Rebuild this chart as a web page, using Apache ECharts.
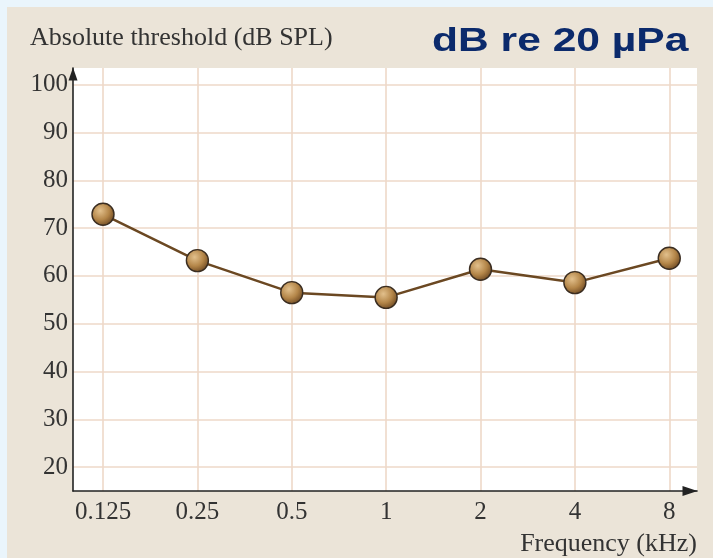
<!DOCTYPE html>
<html>
<head>
<meta charset="utf-8">
<script src="https://cdn.jsdelivr.net/npm/echarts@6/dist/echarts.min.js"></script>
<style>
  html, body { margin: 0; padding: 0; }
  #chart { width: 713px; height: 558px; }
</style>
</head>
<body>
<div id="chart"></div>
<script>
// Frequency categories (kHz)
const categories = ['0.125', '0.25', '0.5', '1', '2', '4', '8'];
// Absolute threshold values (dB SPL)
const thresholds = [72.9, 63.2, 56.5, 55.5, 61.4, 58.6, 63.7];
// Y tick labels
const yTicks = [20, 30, 40, 50, 60, 70, 80, 90, 100];

const xIdx = categories.map((c, i) => i);
const seriesData = thresholds.map((v, i) => [i, v]);

const serif = '"Liberation Serif", "Times New Roman", serif';
const textColor = '#333333';
const gridColor = '#eed9c8';

const chart = echarts.init(document.getElementById('chart'), null, { renderer: 'canvas' });

chart.setOption({
  backgroundColor: '#ebe4d8',
  animation: false,
  graphic: [
    { type: 'rect', shape: { x: 0, y: 0, width: 713, height: 7 }, style: { fill: '#eaf5fc' }, silent: true },
    { type: 'rect', shape: { x: 0, y: 0, width: 7, height: 558 }, style: { fill: '#eaf5fc' }, silent: true },
    {
      type: 'text', x: 432, y: 42, scaleX: 1.29, silent: true,
      style: {
        text: 'dB re 20 µPa',
        font: 'bold 33px "Liberation Sans", Arial, sans-serif',
        fill: '#0b2a6c',
        align: 'left', verticalAlign: 'middle',
        textAlign: 'left', textVerticalAlign: 'middle'
      }
    }
  ],
  grid: {
    left: 73, top: 68, right: 16, bottom: 67,
    show: true, backgroundColor: '#ffffff', borderWidth: 0
  },
  xAxis: {
    type: 'value',
    min: -0.318,
    max: 6.294,
    name: 'Frequency (kHz)',
    nameLocation: 'end',
    nameGap: 0,
    nameTextStyle: {
      fontFamily: serif, fontSize: 26, color: textColor,
      align: 'right', verticalAlign: 'top', padding: [40, 0, 0, 0]
    },
    axisLine: {
      show: true,
      onZero: false,
      lineStyle: { color: '#222', width: 1.6 },
      symbol: ['none', 'triangle'],
      symbolSize: [10, 15],
      symbolOffset: [0, -7]
    },
    axisTick: { show: false, customValues: xIdx },
    axisLabel: {
      customValues: xIdx,
      formatter: v => categories[Math.round(v)],
      fontFamily: serif, fontSize: 25, color: textColor, margin: 9
    },
    splitLine: { show: true, lineStyle: { color: gridColor, width: 1.6 } }
  },
  yAxis: {
    type: 'value',
    min: 15,
    max: 103.5,
    name: 'Absolute threshold (dB SPL)',
    nameLocation: 'end',
    nameGap: 30,
    nameTextStyle: {
      fontFamily: serif, fontSize: 26, color: textColor,
      align: 'left', verticalAlign: 'middle', padding: [0, 0, 0, -43]
    },
    axisLine: {
      show: true,
      onZero: false,
      lineStyle: { color: '#222', width: 1.6 },
      symbol: ['none', 'triangle'],
      symbolSize: [9, 13],
      symbolOffset: [0, -6]
    },
    axisTick: { show: false, customValues: yTicks },
    axisLabel: {
      customValues: yTicks,
      fontFamily: serif, fontSize: 25, color: textColor, margin: 5
    },
    splitLine: { show: true, lineStyle: { color: gridColor, width: 1.6 } }
  },
  series: [{
    type: 'line',
    data: seriesData,
    symbol: 'circle',
    symbolSize: 22,
    lineStyle: { color: '#6b4822', width: 2.5 },
    itemStyle: {
      color: {
        type: 'radial', x: 0.38, y: 0.35, r: 0.7,
        colorStops: [
          { offset: 0, color: '#e2c08c' },
          { offset: 0.55, color: '#b48649' },
          { offset: 1, color: '#6a4620' }
        ]
      },
      borderColor: '#3a2d21',
      borderWidth: 1.4
    },
    z: 5
  }]
});
</script>
</body>
</html>
